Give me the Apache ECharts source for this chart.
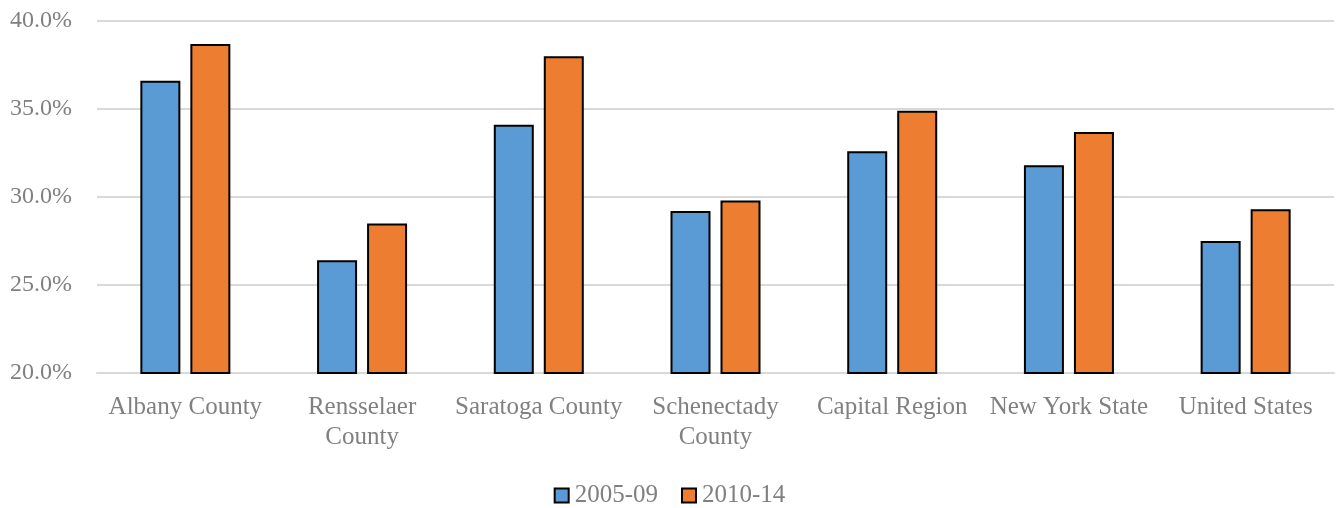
<!DOCTYPE html>
<html>
<head>
<meta charset="utf-8">
<script src="https://cdn.jsdelivr.net/npm/echarts@6/dist/echarts.min.js"></script>
<style>
  html, body { margin: 0; padding: 0; background: #fff; }
  #chart { width: 1339px; height: 508px; }
</style>
</head>
<body>
<div id="chart"></div>
<script>
const categories = [
  "Albany County",
  "Rensselaer\nCounty",
  "Saratoga County",
  "Schenectady\nCounty",
  "Capital Region",
  "New York State",
  "United States",
];
const series0509 = [36.6, 26.4, 34.1, 29.2, 32.6, 31.8, 27.5];
const series1014 = [38.7, 28.5, 38.0, 29.8, 34.9, 33.7, 29.3];
const yTicks = { min: 20, max: 40, interval: 5 };

const fontFamily = "'Liberation Serif', 'DejaVu Serif', serif";
const textColor = "#808080";

const chart = echarts.init(document.getElementById("chart"));

const option = {
  animation: false,
  grid: {
    left: 97,
    right: 5,
    top: 21,
    bottom: 135,
  },
  legend: {
    data: ["2005-09", "2010-14"],
    top: 478,
    left: "center",
    icon: "rect",
    itemWidth: 14,
    itemHeight: 14,
    itemGap: 23,
    textStyle: {
      color: textColor,
      fontFamily: fontFamily,
      fontSize: 25,
      padding: [0, 0, 0, 1],
    },
  },
  xAxis: {
    type: "category",
    data: categories,
    axisLine: { lineStyle: { color: "#d9d9d9", width: 2 } },
    axisTick: { show: false },
    axisLabel: {
      color: textColor,
      fontFamily: fontFamily,
      fontSize: 25,
      margin: 19,
      lineHeight: 30,
      interval: 0,
    },
  },
  yAxis: {
    type: "value",
    min: yTicks.min,
    max: yTicks.max,
    interval: yTicks.interval,
    axisLine: { show: false },
    axisTick: { show: false },
    splitLine: { lineStyle: { color: "#d9d9d9", width: 2 } },
    axisLabel: {
      color: textColor,
      fontFamily: fontFamily,
      fontSize: 24,
      margin: 25,
      formatter: (v) => v.toFixed(1) + "%",
    },
  },
  series: [
    {
      name: "2005-09",
      type: "bar",
      data: series0509,
      barWidth: 40,
      barGap: "25%",
      itemStyle: { color: "#5b9bd5", borderColor: "#000", borderWidth: 2 },
    },
    {
      name: "2010-14",
      type: "bar",
      data: series1014,
      barWidth: 40,
      barGap: "25%",
      itemStyle: { color: "#ed7d31", borderColor: "#000", borderWidth: 2 },
    },
  ],
};

chart.setOption(option);
</script>
</body>
</html>
